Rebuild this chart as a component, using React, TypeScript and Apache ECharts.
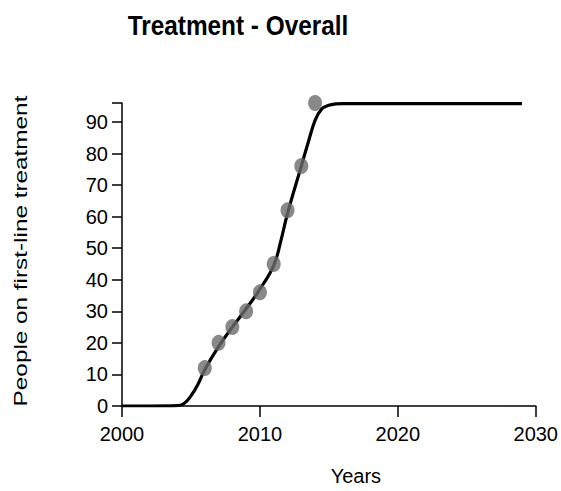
import React, { useEffect, useRef } from "react";
import * as echarts from "echarts";

const titleText = "Treatment - Overall";
const xAxisName = "Years";
const yAxisName = "People on first-line treatment";

const pointYears = [2006, 2007, 2008, 2009, 2010, 2011, 2012, 2013, 2014];
const pointValues = [12, 20, 25, 30, 36, 45, 62, 76, 96];

const curveYears = [
  2000, 2002, 2004, 2004.5, 2005, 2005.5, 2006, 2007, 2008, 2009, 2010, 2011,
  2011.5, 2012, 2013, 2013.5, 2014, 2014.5, 2015, 2015.5, 2016, 2020, 2025, 2029,
];
const curveValues = [
  0, 0, 0.1, 0.8, 3.2, 6.8, 11.5, 18.8, 25, 30.8, 37, 44.5, 52, 61, 76, 83.5,
  90.5, 94.2, 95.3, 95.7, 95.8, 95.8, 95.8, 95.8,
];

const yTicks = [0, 10, 20, 30, 40, 50, 60, 70, 80, 90, 96];
const yLabels = [0, 10, 20, 30, 40, 50, 60, 70, 80, 90];

export default function App() {
  const ref = useRef<HTMLDivElement>(null);
  useEffect(() => {
    document.body.style.margin = "0";
    const chart = echarts.init(ref.current!, null, { renderer: "svg" });
    const font = "Liberation Sans, Arial, Helvetica, sans-serif";
    chart.setOption({
      animation: false,
      backgroundColor: "#ffffff",
      grid: { left: 122, right: 23, top: 103, bottom: 84 },
      xAxis: {
        type: "value",
        min: 2000,
        max: 2030,
        interval: 10,
        name: xAxisName,
        nameLocation: "middle",
        nameGap: 60,
        nameTextStyle: {
          fontFamily: font,
          fontSize: 20,
          color: "#000",
          padding: [0, 0, 0, 54],
        },
        axisLine: { show: true, lineStyle: { color: "#000", width: 1.5 } },
        axisTick: { show: true, length: 11, lineStyle: { color: "#000", width: 1.5 } },
        axisLabel: {
          fontFamily: font,
          fontSize: 20,
          color: "#000",
          margin: 18,
          formatter: (v: number) => String(v),
        },
        splitLine: { show: false },
      },
      yAxis: {
        type: "value",
        min: 0,
        max: 96,
        axisLine: { show: true, lineStyle: { color: "#000", width: 1.5 } },
        axisTick: {
          show: true,
          length: 10,
          customValues: yTicks,
          lineStyle: { color: "#000", width: 1.5 },
        },
        axisLabel: {
          fontFamily: font,
          fontSize: 20,
          color: "#000",
          margin: 14,
          customValues: yLabels,
        },
        splitLine: { show: false },
      },
      graphic: [
        {
          type: "text",
          x: 238,
          y: 25,
          scaleX: 0.87,
          style: {
            text: titleText,
            fontFamily: font,
            fontSize: 28,
            fontWeight: "bold",
            fill: "#000",
            textAlign: "center",
            textVerticalAlign: "middle",
          },
        },
        {
          type: "text",
          x: 20,
          y: 251,
          rotation: Math.PI / 2,
          scaleX: 1.28,
          style: {
            text: yAxisName,
            fontFamily: font,
            fontSize: 19,
            fill: "#000",
            textAlign: "center",
            textVerticalAlign: "middle",
          },
        },
      ],
      series: [
        {
          type: "line",
          data: curveYears.map((x, i) => [x, curveValues[i]]),
          smooth: 0.4,
          showSymbol: false,
          lineStyle: { color: "#000", width: 3.2 },
          z: 2,
        },
        {
          type: "scatter",
          data: pointYears.map((x, i) => [x, pointValues[i]]),
          symbol: "circle",
          symbolSize: [14, 16],
          itemStyle: { color: "#6b6b6b" },
          z: 3,
        },
      ],
    });
    return () => chart.dispose();
  }, []);
  return <div ref={ref} style={{ width: 561, height: 491 }} />;
}
